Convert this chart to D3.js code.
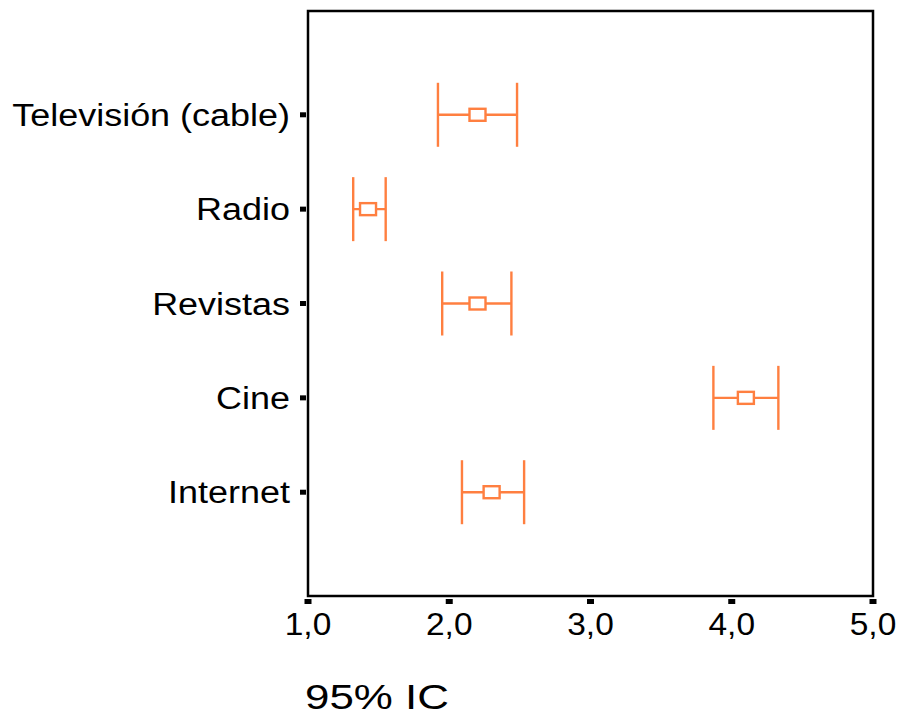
<!DOCTYPE html>
<html>
<head>
<meta charset="utf-8">
<script src="https://cdn.jsdelivr.net/npm/d3@7"></script>
<style>
  html, body { margin: 0; padding: 0; background: #fff; }
  svg { display: block; }
  text { font-family: "Liberation Sans", Arial, sans-serif; fill: #000; }
</style>
</head>
<body>
<svg id="chart" width="897" height="717"></svg>
<script>
// Data
const categories = ["Televisión (cable)", "Radio", "Revistas", "Cine", "Internet"];
const means      = [2.20, 1.425, 2.20, 4.10, 2.30];
const lowerCI    = [1.92, 1.32, 1.95, 3.87, 2.09];
const upperCI    = [2.48, 1.55, 2.44, 4.33, 2.53];
const xTicks     = [1, 2, 3, 4, 5];
const xTickLabels = ["1,0", "2,0", "3,0", "4,0", "5,0"];
const xTitle = "95% IC";

const svg = d3.select("#chart");
const pLeft = 308, pRight = 873, pTop = 11, pBottom = 596;
const orange = "#ff7f40";

const x = d3.scaleLinear().domain([1, 5]).range([pLeft, pRight]);
const y = d3.scalePoint().domain(categories).range([pTop, pBottom]).padding(1.1);

// Frame
svg.append("rect")
  .attr("x", pLeft).attr("y", pTop)
  .attr("width", pRight - pLeft).attr("height", pBottom - pTop)
  .attr("fill", "none").attr("stroke", "#000").attr("stroke-width", 2.5);

// Y ticks & labels
categories.forEach(c => {
  svg.append("rect").attr("x", pLeft - 8).attr("y", y(c) - 2.5)
    .attr("width", 6).attr("height", 5).attr("fill", "#000");
  svg.append("g").attr("transform", `translate(${pLeft - 18},${y(c) + 11})`)
    .append("text").attr("text-anchor", "end")
    .attr("transform", `scale(1.16,1)`)
    .attr("font-size", 31).text(c);
});

// X ticks & labels
xTicks.forEach((t, i) => {
  svg.append("rect").attr("x", x(t) - 3.5).attr("y", pBottom + 3)
    .attr("width", 7).attr("height", 5).attr("fill", "#000");
  svg.append("g").attr("transform", `translate(${x(t)},${635})`)
    .append("text").attr("text-anchor", "middle")
    .attr("transform", `scale(1.08,1)`)
    .attr("font-size", 31).text(xTickLabels[i]);
});

// X title
svg.append("g").attr("transform", `translate(305,709)`)
  .append("text").attr("text-anchor", "start")
  .attr("transform", `scale(1.22,1)`)
  .attr("font-size", 36).text(xTitle);

// Error bars
const capH = 32;
const g = svg.append("g").attr("stroke", orange).attr("stroke-width", 2.4).attr("fill", "none");
categories.forEach((c, i) => {
  const cy = y(c);
  g.append("line").attr("x1", x(lowerCI[i])).attr("x2", x(upperCI[i])).attr("y1", cy).attr("y2", cy);
  g.append("line").attr("x1", x(lowerCI[i])).attr("x2", x(lowerCI[i])).attr("y1", cy - capH).attr("y2", cy + capH);
  g.append("line").attr("x1", x(upperCI[i])).attr("x2", x(upperCI[i])).attr("y1", cy - capH).attr("y2", cy + capH);
  g.append("rect").attr("x", x(means[i]) - 8).attr("y", cy - 6)
    .attr("width", 16).attr("height", 12).attr("fill", "#fff");
});
</script>
</body>
</html>
